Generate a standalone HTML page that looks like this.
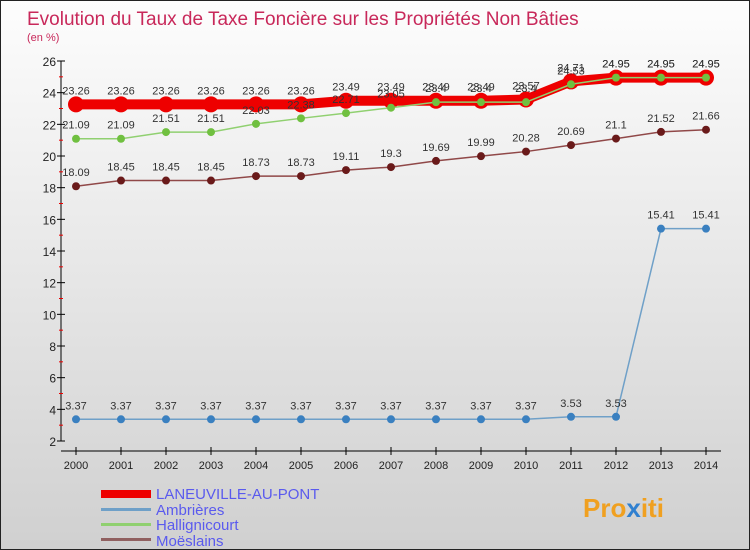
<!DOCTYPE html>
<html><head><meta charset="utf-8"><style>
body{margin:0}
#c{width:750px;height:550px;position:relative;overflow:hidden;box-sizing:border-box;border:1px solid #222;background:linear-gradient(#fdfdfd,#d0d0d0);font-family:"Liberation Sans",sans-serif}
</style></head><body>
<div id="c">
<svg id="s" width="750" height="550" style="position:absolute;left:0;top:0">
<text x="26" y="24" font-size="19" fill="#c8285a">Evolution du Taux de Taxe Foncière sur les Propriétés Non Bâties</text>
<text x="26" y="40" font-size="11" fill="#c8285a">(en %)</text>
<g id="axes"></g><g id="series"></g>
<g>
<rect x="100" y="489" width="50" height="8" fill="#e00"/>
<text x="155" y="498" font-size="15" fill="#5a5aee">LANEUVILLE-AU-PONT</text>
<rect x="100" y="507" width="50" height="3" fill="#6fa0c8"/>
<text x="155" y="514" font-size="15" fill="#5a5aee">Ambrières</text>
<rect x="100" y="522" width="50" height="3" fill="#90d070"/>
<text x="155" y="529" font-size="15" fill="#5a5aee">Hallignicourt</text>
<rect x="100" y="537" width="50" height="3" fill="#906060"/>
<text x="155" y="545" font-size="15" fill="#5a5aee">Moëslains</text>
</g>
<text x="582" y="516" font-size="26" font-weight="bold" fill="#f0a020">Pro<tspan fill="#3080d0">x</tspan>iti</text>
</svg>
</div>
<script>
const years=[2000,2001,2002,2003,2004,2005,2006,2007,2008,2009,2010,2011,2012,2013,2014];
const laneuville=[23.26,23.26,23.26,23.26,23.26,23.26,23.49,23.49,23.49,23.49,23.57,24.71,24.95,24.95,24.95];
const ambrieres=[3.37,3.37,3.37,3.37,3.37,3.37,3.37,3.37,3.37,3.37,3.37,3.53,3.53,15.41,15.41];
const hallignicourt=[21.09,21.09,21.51,21.51,22.03,22.38,22.71,23.05,23.4,23.4,23.4,24.53,24.95,24.95,24.95];
const moeslains=[18.09,18.45,18.45,18.45,18.73,18.73,19.11,19.3,19.69,19.99,20.28,20.69,21.1,21.52,21.66];
const yTicks=[2,4,6,8,10,12,14,16,18,20,22,24,26];
const NS="http://www.w3.org/2000/svg";
const X=i=>75+i*45, Y=v=>440-(v-2)*(380/24);
function mk(t,a,p,name){const e=document.createElementNS(NS,t);for(const k in a)e.setAttribute(k,a[k]);


p.appendChild(e);return e;}
const ax=document.getElementById('axes'),se=document.getElementById('series');
mk('line',{x1:60,y1:60,x2:60,y2:440,stroke:'#000'},ax,'y-axis');
mk('line',{x1:60,y1:450,x2:720,y2:450,stroke:'#000'},ax,'x-axis');
yTicks.forEach(v=>{mk('line',{x1:56,y1:Y(v),x2:64,y2:Y(v),stroke:'#000'},ax,'y-tick');
if(v<26)mk('line',{x1:58,y1:Y(v+1),x2:62,y2:Y(v+1),stroke:'#e00'},ax,'y-minor-tick');
const t=mk('text',{x:55,y:Y(v)+5,'font-size':12,fill:'#222','text-anchor':'end'},ax,'y-tick-label');t.textContent=v;});
years.forEach((y,i)=>{mk('line',{x1:X(i),y1:446,x2:X(i),y2:454,stroke:'#000'},ax,'x-tick');
const t=mk('text',{x:X(i),y:468,'font-size':11,fill:'#222','text-anchor':'middle'},ax,'x-tick-label');t.textContent=y;});
function draw(d,col,w,r,fill,name){
mk('polyline',{points:d.map((v,i)=>X(i)+','+Y(v)).join(' '),fill:'none',stroke:col,'stroke-width':w},se,name+'-line');
d.forEach((v,i)=>{mk('circle',{cx:X(i),cy:Y(v),r:r,fill:fill},se,name+'-point');
const t=mk('text',{x:X(i),y:Y(v)-10,'font-size':11,fill:'#333','text-anchor':'middle'},se,name+'-value');t.textContent=v;});}
draw(moeslains,'#904848',1.5,4,'#6a1a1a','moeslains');
draw(ambrieres,'#6fa0c8',1.5,4,'#3a80c0','ambrieres');
draw(laneuville,'#e00',10,8,'#e00','laneuville');
draw(hallignicourt,'#90d070',1.5,4,'#70c040','hallignicourt');
</script>
</body></html>
